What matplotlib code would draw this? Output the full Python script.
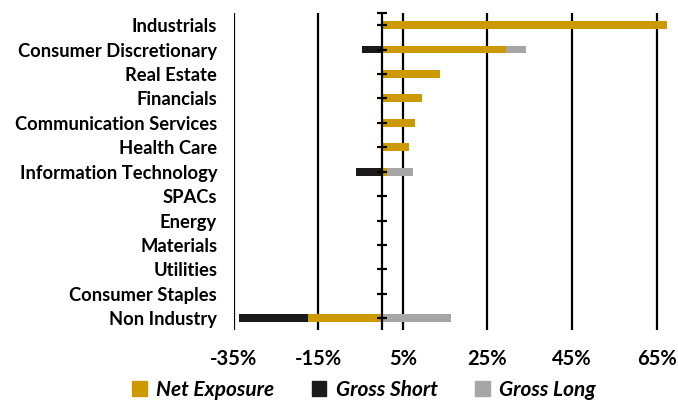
import matplotlib
matplotlib.use("Agg")
import matplotlib.pyplot as plt
from matplotlib.patches import Patch
import numpy as np

categories = ["Industrials", "Consumer Discretionary", "Real Estate", "Financials",
              "Communication Services", "Health Care", "Information Technology",
              "SPACs", "Energy", "Materials", "Utilities", "Consumer Staples", "Non Industry"]
net_exposure = [67.5, 29.5, 13.8, 9.5, 7.9, 6.5, 1.3, 0, 0, 0, 0, 0, -17.4]
gross_short = [0, -4.6, 0, 0, 0, 0, -6.1, 0, 0, 0, 0, 0, -33.7]
gross_long = [67.5, 34.1, 13.8, 9.5, 7.9, 6.5, 7.4, 0, 0, 0, 0, 0, 16.3]
xticks = [-35, -15, 5, 25, 45, 65]

GOLD = "#CC9900"
BLACK = "#1A1A1A"
GRAY = "#A6A6A6"

plt.rcParams['font.family'] = ['Lato', 'DejaVu Sans']

fig = plt.figure(figsize=(6.78, 4.03), dpi=100)
ax = fig.add_axes([0.345, 0.180, 0.642, 0.788])

y = np.arange(len(categories))
h = 0.32
ax.barh(y, gross_long, height=h, color=GRAY, zorder=2)
ax.barh(y, gross_short, height=h, color=BLACK, zorder=2)
ax.barh(y, net_exposure, height=h, color=GOLD, zorder=3)

ax.set_xlim(-35, 68)
ax.set_ylim(len(categories) - 0.5, -0.5)

for xv in xticks:
    ax.axvline(xv, color="black", lw=1.6, zorder=1)
ax.axvline(0, color="black", lw=1.6, zorder=4)
ax.plot([0] * (len(categories) + 1), list(y) + [-0.5], ls='none', marker='_',
        ms=7, mew=1.6, color='black', zorder=5, clip_on=False)

for s in ax.spines.values():
    s.set_visible(False)

ax.set_yticks(y)
ax.set_yticklabels(categories, fontsize=13.2, fontweight='bold')
ax.set_xticks(xticks)
ax.set_xticklabels([f"{v}%" for v in xticks], fontsize=14.5, fontweight='bold')
ax.tick_params(axis='y', length=0, pad=12)
ax.tick_params(axis='x', length=0, pad=13)

handles = [Patch(color=GOLD, label="Net Exposure"),
           Patch(color=BLACK, label="Gross Short"),
           Patch(color=GRAY, label="Gross Long")]
fig.legend(handles=handles, loc='center', bbox_to_anchor=(0.537, 0.033), ncol=3,
           frameon=False, handlelength=0.7, handleheight=0.7, handletextpad=0.45,
           columnspacing=1.8, prop={'weight': 'bold', 'style': 'italic', 'size': 15})

fig.savefig("out.png", dpi=100)
